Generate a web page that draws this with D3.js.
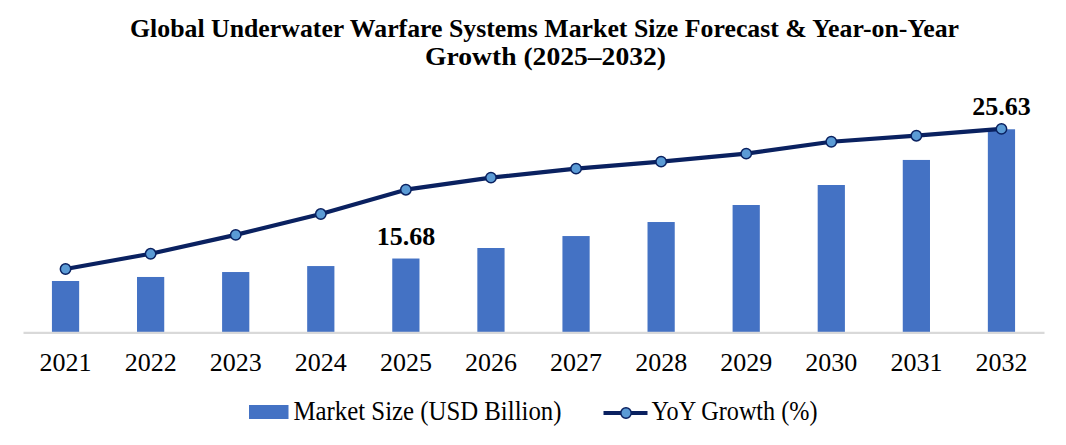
<!DOCTYPE html>
<html>
<head>
<meta charset="utf-8">
<script src="https://cdn.jsdelivr.net/npm/d3@7"></script>
<style>
  html, body { margin: 0; padding: 0; background: #fff; }
  svg { display: block; }
  text { font-family: "Liberation Serif", "DejaVu Serif", serif; fill: #000; }
</style>
</head>
<body>
<svg id="chart" width="1066" height="445"></svg>
<script>
// ---- data ----
const years = ["2021","2022","2023","2024","2025","2026","2027","2028","2029","2030","2031","2032"];
const marketSize = [13.95, 14.26, 14.64, 15.10, 15.68, 16.49, 17.41, 18.49, 19.80, 21.34, 23.27, 25.63];
const yoyGrowth = [3.25, 4.03, 5.00, 6.07, 7.32, 7.94, 8.40, 8.76, 9.17, 9.78, 10.09, 10.44];
const labeledYears = ["2025", "2032"];
const titleLines = ["Global Underwater Warfare Systems Market Size Forecast & Year-on-Year", "Growth (2025\u20132032)"];
const legendLabels = ["Market Size (USD Billion)", "YoY Growth (%)"];

// ---- styles ----
const barColor = "#4472c4";
const lineColor = "#0a2160";
const markerFill = "#5b9bd5";

const svg = d3.select("#chart");
const plot = { left: 23, right: 1044, top: 98.5, bottom: 332.3 };

const x = d3.scaleBand().domain(years).range([plot.left, plot.right]).paddingInner(0.68).paddingOuter(0.34);
const yBar = d3.scaleLinear().domain([10, 28]).range([plot.bottom, plot.top]);
const yLine = d3.scaleLinear().domain([0, 12]).range([plot.bottom, plot.top]);

// title
svg.append("text").attr("x", 544.5).attr("y", 37).attr("text-anchor", "middle")
  .attr("font-size", 25.5).attr("font-weight", "bold")
  .attr("textLength", 829).attr("lengthAdjust", "spacingAndGlyphs")
  .text(titleLines[0]);
svg.append("text").attr("x", 545.5).attr("y", 65).attr("text-anchor", "middle")
  .attr("font-size", 25.5).attr("font-weight", "bold")
  .attr("textLength", 241).attr("lengthAdjust", "spacingAndGlyphs")
  .text(titleLines[1]);

// bars
svg.append("g").selectAll("rect").data(years).join("rect")
  .attr("x", d => x(d))
  .attr("width", x.bandwidth())
  .attr("y", (d, i) => yBar(marketSize[i]))
  .attr("height", (d, i) => yBar.range()[0] - yBar(marketSize[i]))
  .attr("fill", barColor);

// x axis
const xAxis = d3.axisBottom(x).tickSize(0).tickPadding(0);
const gx = svg.append("g").attr("transform", `translate(0,${plot.bottom})`).call(xAxis);
gx.select(".domain").attr("stroke", "#d9d9d9").attr("stroke-width", 2.2);
gx.selectAll(".tick text").attr("font-size", 26).attr("font-family", "Liberation Serif")
  .attr("fill", "#000").attr("dy", 0).attr("y", 38.5);

// line
const line = d3.line().x((d, i) => x(years[i]) + x.bandwidth() / 2).y(d => yLine(d));
svg.append("path").datum(yoyGrowth).attr("d", line)
  .attr("fill", "none").attr("stroke", lineColor).attr("stroke-width", 4.2).attr("stroke-linejoin", "round");
svg.append("g").selectAll("circle").data(yoyGrowth).join("circle")
  .attr("cx", (d, i) => x(years[i]) + x.bandwidth() / 2)
  .attr("cy", d => yLine(d))
  .attr("r", 5.2)
  .attr("fill", markerFill).attr("stroke", lineColor).attr("stroke-width", 1.5);

// data labels
svg.append("g").selectAll("text").data(labeledYears).join("text")
  .attr("x", d => x(d) + x.bandwidth() / 2)
  .attr("y", d => yBar(marketSize[years.indexOf(d)]) - 14)
  .attr("text-anchor", "middle").attr("font-size", 26).attr("font-weight", "bold")
  .text(d => marketSize[years.indexOf(d)].toFixed(2));

// legend
const lg = svg.append("g");
lg.append("rect").attr("x", 249).attr("y", 405).attr("width", 39.5).attr("height", 14).attr("fill", barColor);
lg.append("text").attr("x", 293.5).attr("y", 420).attr("font-size", 26.5)
  .attr("textLength", 268).attr("lengthAdjust", "spacingAndGlyphs").text(legendLabels[0]);
lg.append("line").attr("x1", 603.5).attr("x2", 647.5).attr("y1", 413).attr("y2", 413)
  .attr("stroke", lineColor).attr("stroke-width", 4.2);
lg.append("circle").attr("cx", 626).attr("cy", 413).attr("r", 5.2)
  .attr("fill", markerFill).attr("stroke", lineColor).attr("stroke-width", 1.5);
lg.append("text").attr("x", 651.5).attr("y", 420).attr("font-size", 26.5)
  .attr("textLength", 166).attr("lengthAdjust", "spacingAndGlyphs").text(legendLabels[1]);
</script>
</body>
</html>
